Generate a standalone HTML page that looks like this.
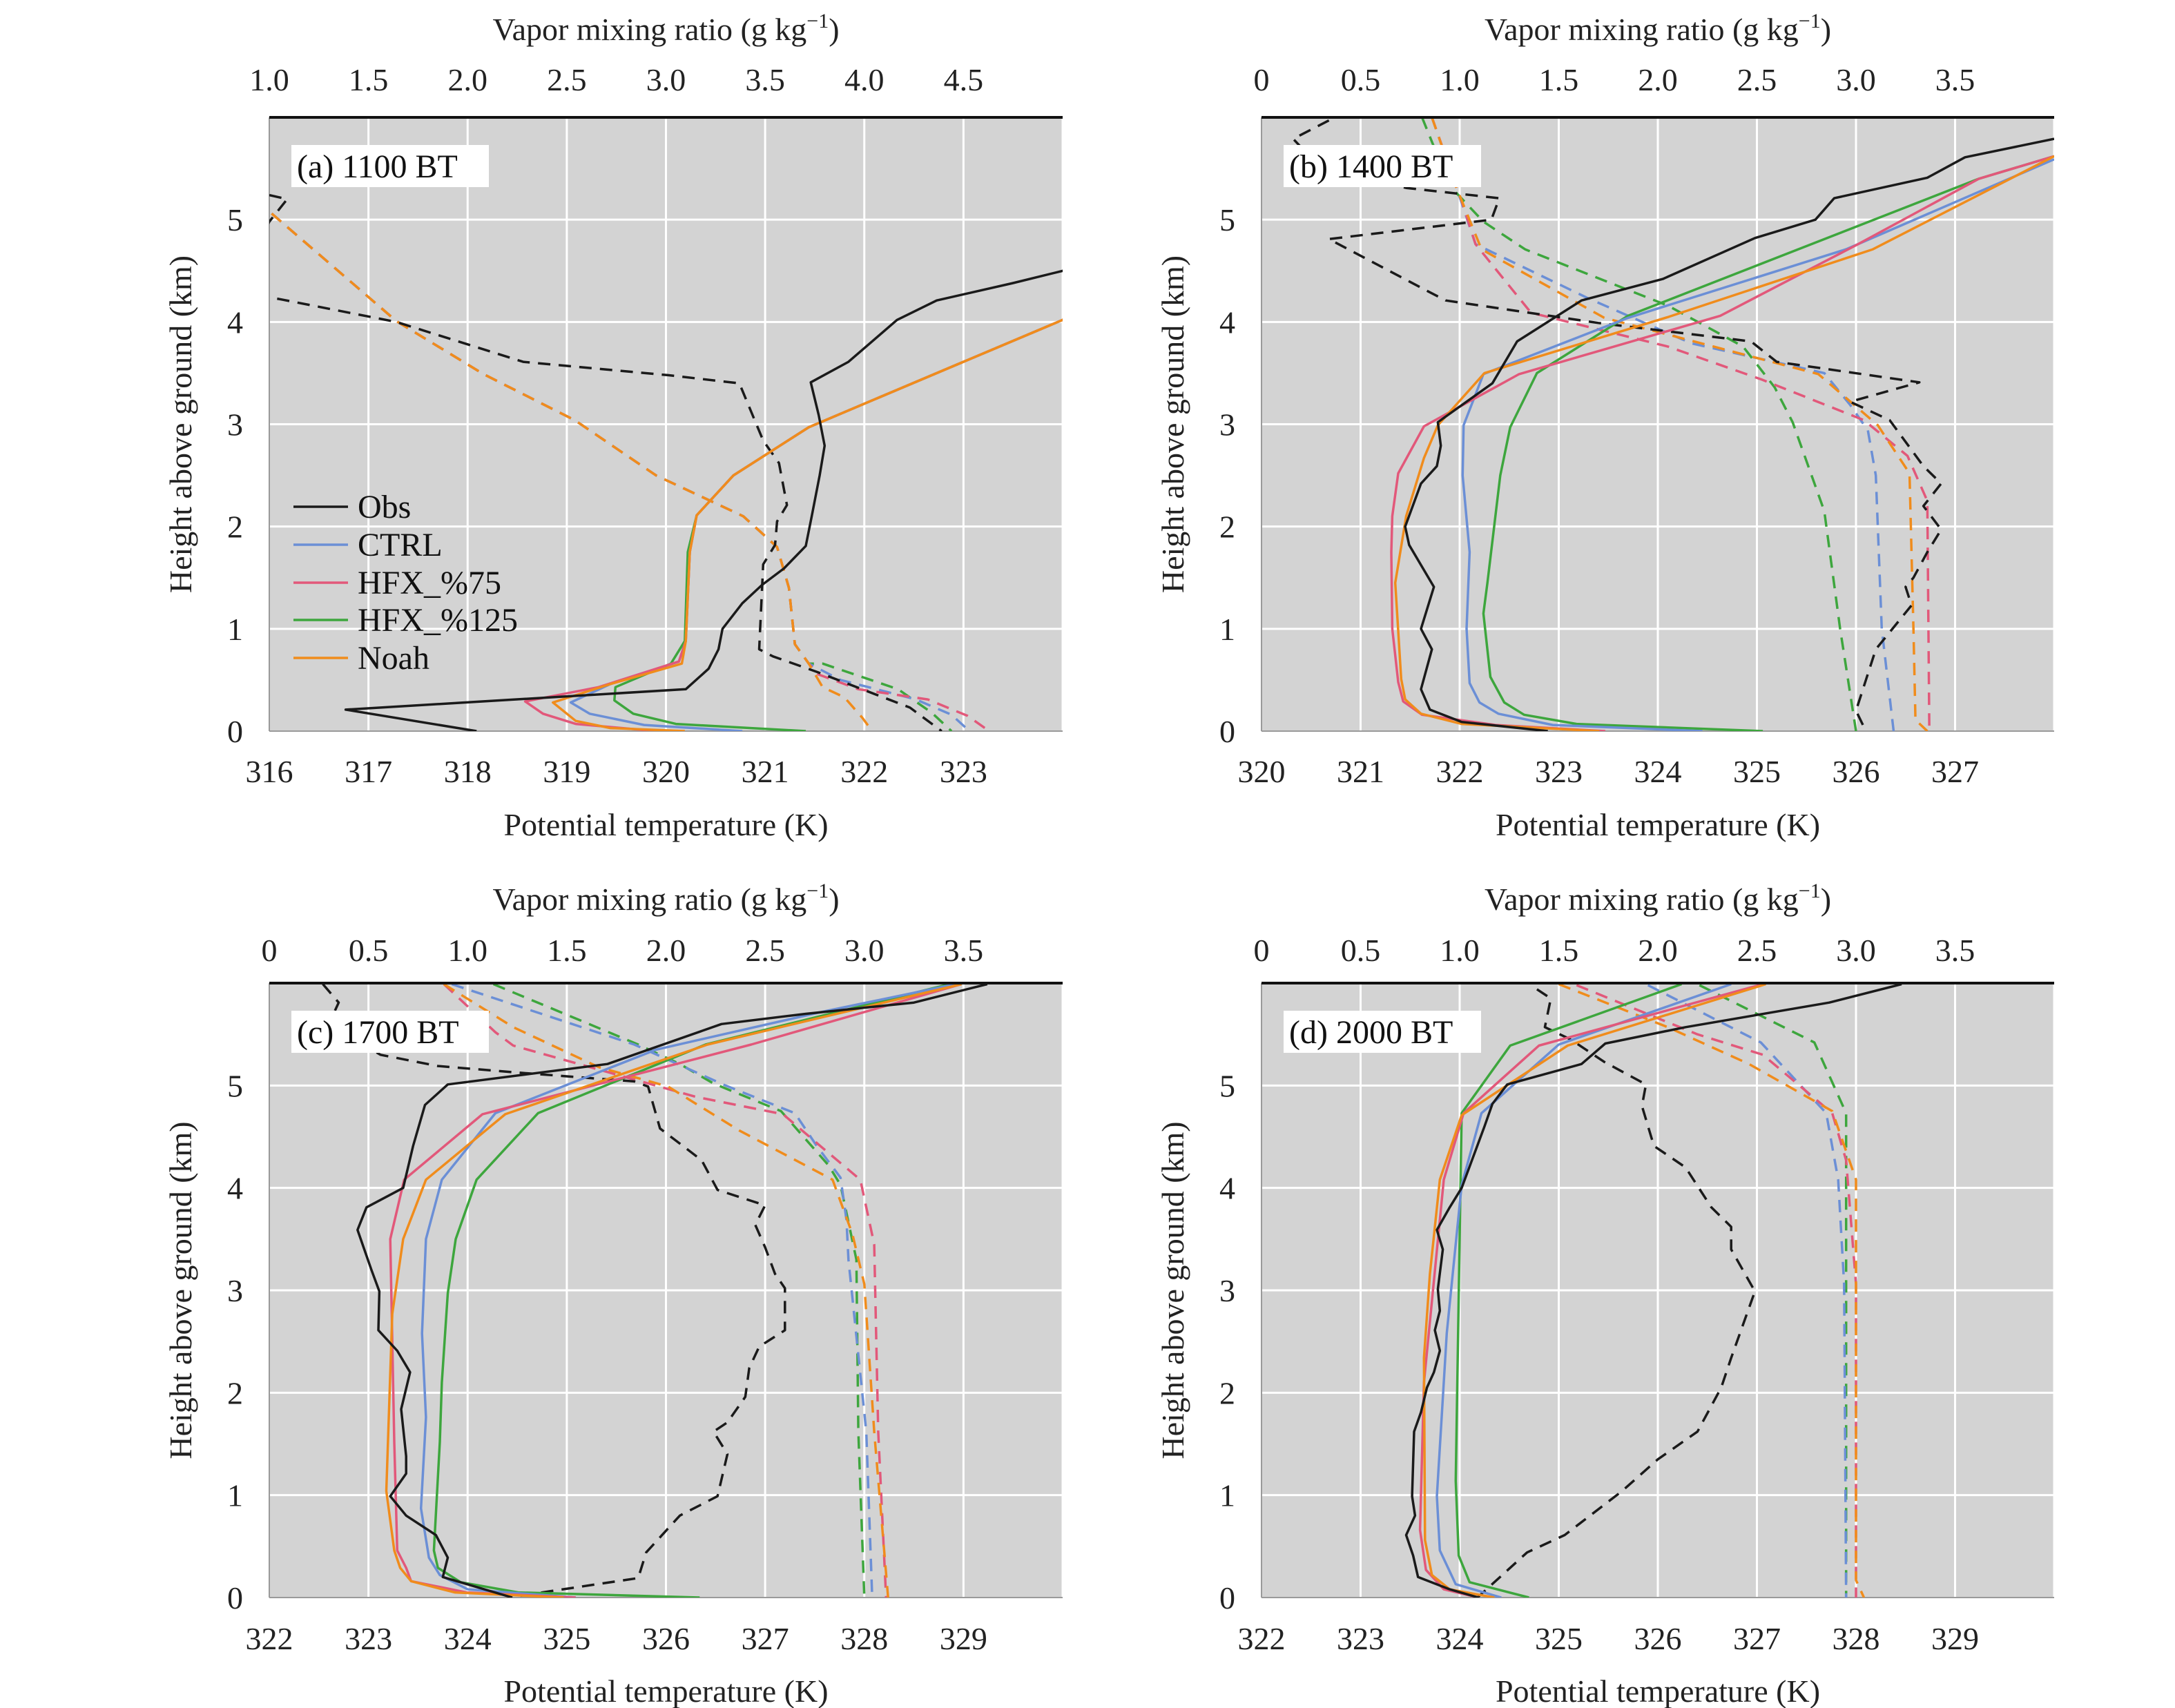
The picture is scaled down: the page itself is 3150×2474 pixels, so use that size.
<!DOCTYPE html>
<html><head><meta charset="utf-8">
<style>
html,body{margin:0;padding:0;background:#fff;}
svg{display:block;font-family:"Liberation Serif","DejaVu Serif",serif;}
</style></head>
<body>
<svg id="fig" width="3150" height="2474" viewBox="0 0 3150 2474" xmlns="http://www.w3.org/2000/svg"></svg>
<script>
// ---------- Panel (a) 1100 BT : [value, height km] ----------
const aObsT=[[318.09,0],[316.77,0.21],[320.2,0.41],[320.43,0.61],[320.53,0.8],[320.57,1.0],[320.77,1.25],[320.97,1.43],[321.19,1.59],[321.41,1.81],[321.47,2.1],[321.55,2.5],[321.6,2.79],[321.54,3.09],[321.46,3.41],[321.84,3.61],[322.33,4.02],[322.73,4.21],[323.5,4.38],[324.0,4.5],[324.6,4.8]];
const aCtrlT=[[320.77,0],[319.78,0.06],[319.23,0.17],[319.04,0.28],[319.44,0.46],[320.13,0.68],[320.2,0.88],[320.24,1.75],[320.31,2.11],[320.68,2.5],[321.44,2.97],[322.34,3.34],[324.0,4.02],[324.5,4.3]];
const aH75T=[[319.9,0],[319.09,0.07],[318.76,0.17],[318.58,0.29],[319.32,0.43],[320.13,0.68],[320.2,0.88],[320.24,1.75],[320.31,2.11],[320.68,2.5],[321.44,2.97],[322.34,3.34],[324.0,4.02],[324.5,4.3]];
const aH125T=[[321.41,0],[320.1,0.07],[319.67,0.17],[319.48,0.3],[319.49,0.43],[320.05,0.66],[320.19,0.88],[320.22,1.75],[320.31,2.11],[320.68,2.5],[321.44,2.97],[322.34,3.34],[324.0,4.02],[324.5,4.3]];
const aNoahT=[[320.19,0],[319.44,0.03],[319.09,0.1],[318.86,0.28],[319.44,0.46],[320.16,0.66],[320.2,0.88],[320.24,1.75],[320.31,2.11],[320.68,2.5],[321.44,2.97],[322.34,3.34],[324.0,4.02],[324.5,4.3]];
const aObsQ=[[1.0,5.24],[1.09,5.2],[1.0,4.98],[0.9,4.6],[0.95,4.26],[1.06,4.22],[1.64,4.0],[2.28,3.61],[3.01,3.48],[3.37,3.4],[3.49,2.84],[3.57,2.62],[3.61,2.21],[3.56,2.05],[3.55,1.82],[3.49,1.63],[3.47,0.8],[3.54,0.73],[3.76,0.58],[4.23,0.23],[4.39,0]];
const aCtrlQ=[[0.9,5.4],[1.0,5.08],[1.64,4.01],[2.08,3.49],[2.54,3.04],[2.95,2.5],[3.39,2.1],[3.56,1.8],[3.62,1.4],[3.65,0.85],[3.72,0.66],[3.88,0.5],[4.26,0.31],[4.44,0.16],[4.53,0]];
const aH75Q=[[0.9,5.4],[1.0,5.08],[1.64,4.01],[2.08,3.49],[2.54,3.04],[2.95,2.5],[3.39,2.1],[3.56,1.8],[3.62,1.4],[3.65,0.85],[3.72,0.66],[3.76,0.56],[3.97,0.41],[4.32,0.31],[4.52,0.15],[4.63,0]];
const aH125Q=[[0.9,5.4],[1.0,5.08],[1.64,4.01],[2.08,3.49],[2.54,3.04],[2.95,2.5],[3.39,2.1],[3.56,1.8],[3.62,1.4],[3.65,0.85],[3.72,0.66],[3.79,0.66],[4.17,0.41],[4.34,0.18],[4.44,0]];
const aNoahQ=[[0.9,5.4],[1.0,5.08],[1.64,4.01],[2.08,3.49],[2.54,3.04],[2.95,2.5],[3.39,2.1],[3.56,1.8],[3.62,1.4],[3.65,0.85],[3.72,0.66],[3.79,0.43],[3.9,0.33],[3.99,0.13],[4.04,0]];
// ---------- Panel (b) 1400 BT ----------
const bObsT=[[322.89,0],[322.02,0.09],[321.7,0.21],[321.61,0.41],[321.72,0.8],[321.61,1.0],[321.74,1.41],[321.49,1.82],[321.45,2.0],[321.61,2.42],[321.77,2.59],[321.81,2.79],[321.78,3.02],[322.33,3.4],[322.58,3.81],[323.23,4.21],[324.05,4.42],[324.98,4.82],[325.59,5.0],[325.78,5.21],[326.72,5.41],[327.1,5.61],[328.0,5.79]];
const bCtrlT=[[324.45,0],[322.94,0.06],[322.39,0.17],[322.2,0.28],[322.1,0.47],[322.07,1.0],[322.1,1.75],[322.03,2.5],[322.04,2.99],[322.24,3.49],[323.7,4.04],[325.9,4.71],[328.0,5.59]];
const bH75T=[[323.47,0],[322.36,0.06],[321.62,0.16],[321.43,0.29],[321.38,0.48],[321.32,1.0],[321.31,1.75],[321.32,2.1],[321.38,2.52],[321.64,2.98],[322.6,3.49],[324.63,4.06],[326.02,4.76],[327.24,5.4],[328.0,5.62]];
const bH125T=[[325.06,0],[323.18,0.07],[322.65,0.16],[322.45,0.28],[322.31,0.53],[322.24,1.15],[322.28,1.45],[322.41,2.5],[322.51,2.97],[322.78,3.5],[323.7,4.06],[327.24,5.4],[328.0,5.62]];
const bNoahT=[[323.41,0],[322.02,0.07],[321.61,0.17],[321.45,0.31],[321.41,0.51],[321.35,1.45],[321.46,2.1],[321.64,2.67],[321.78,2.99],[322.25,3.5],[324.11,4.05],[326.17,4.71],[328.0,5.62]];
const bObsQ=[[0.34,5.97],[0.16,5.79],[0.3,5.5],[0.73,5.31],[1.2,5.21],[1.16,5.0],[0.34,4.81],[0.83,4.31],[0.93,4.21],[1.7,3.99],[2.47,3.81],[2.6,3.61],[3.32,3.41],[2.97,3.22],[3.17,3.04],[3.34,2.59],[3.43,2.42],[3.34,2.2],[3.43,1.97],[3.36,1.75],[3.29,1.5],[3.25,1.41],[3.28,1.23],[3.1,0.8],[3.0,0.2],[3.05,0]];
const bCtrlQ=[[0.86,6.0],[0.99,5.28],[1.08,4.76],[1.65,4.23],[2.17,3.79],[2.84,3.5],[2.97,3.19],[3.06,2.94],[3.1,2.5],[3.13,1.0],[3.19,0]];
const bH75Q=[[0.86,6.0],[1.01,5.18],[1.08,4.76],[1.36,4.09],[2.05,3.76],[2.52,3.44],[3.04,3.04],[3.26,2.69],[3.36,2.25],[3.37,0]];
const bH125Q=[[0.81,6.0],[0.95,5.33],[1.12,4.98],[1.33,4.71],[2.05,4.16],[2.43,3.76],[2.59,3.36],[2.68,3.02],[2.84,2.15],[2.92,1.0],[3.0,0]];
const bNoahQ=[[0.86,6.0],[0.98,5.33],[1.11,4.71],[1.73,4.04],[2.81,3.49],[3.11,2.99],[3.27,2.52],[3.29,1.0],[3.3,0.11],[3.36,0]];
// ---------- Panel (c) 1700 BT ----------
const cObsT=[[324.45,0],[323.75,0.2],[323.8,0.39],[323.68,0.61],[323.38,0.8],[323.22,0.99],[323.38,1.21],[323.38,1.38],[323.33,1.84],[323.42,2.2],[323.29,2.41],[323.1,2.61],[323.11,2.99],[323.03,3.2],[322.89,3.59],[322.98,3.81],[323.35,4.0],[323.45,4.41],[323.57,4.81],[323.8,5.01],[325.41,5.21],[326.56,5.6],[327.41,5.7],[328.5,5.81],[329.24,5.99]];
const cCtrlT=[[325.09,0],[324.0,0.08],[323.72,0.22],[323.61,0.39],[323.53,0.87],[323.58,1.76],[323.54,2.58],[323.58,3.5],[323.74,4.08],[324.28,4.73],[325.9,5.35],[327.53,5.71],[328.92,5.99]];
const cH75T=[[325.09,0],[323.99,0.05],[323.43,0.16],[323.38,0.29],[323.29,0.46],[323.26,1.52],[323.22,3.5],[323.36,4.08],[324.15,4.72],[326.86,5.4],[328.98,5.99]];
const cH125T=[[326.34,0],[324.51,0.05],[323.93,0.15],[323.7,0.29],[323.66,0.46],[323.72,1.52],[323.74,2.1],[323.8,2.97],[323.88,3.5],[324.09,4.08],[324.71,4.73],[326.4,5.4],[328.86,5.99]];
const cNoahT=[[324.97,0],[323.87,0.05],[323.43,0.16],[323.32,0.29],[323.26,0.46],[323.18,1.04],[323.24,2.77],[323.35,3.5],[323.58,4.08],[324.38,4.72],[326.42,5.4],[328.98,5.99]];
const cObsQ=[[0.27,5.99],[0.35,5.81],[0.3,5.6],[0.56,5.3],[0.85,5.19],[1.23,5.13],[1.84,5.04],[1.91,4.99],[1.97,4.58],[2.18,4.27],[2.26,3.98],[2.5,3.83],[2.45,3.64],[2.5,3.42],[2.55,3.16],[2.6,3.02],[2.6,2.61],[2.47,2.45],[2.42,2.24],[2.4,1.96],[2.31,1.71],[2.24,1.62],[2.31,1.4],[2.26,0.99],[2.07,0.8],[1.9,0.44],[1.86,0.19],[1.34,0.04],[1.21,0]];
const cCtrlQ=[[0.92,5.99],[1.84,5.4],[2.3,5.0],[2.65,4.73],[2.76,4.41],[2.88,4.1],[2.91,3.69],[2.92,3.3],[3.01,1.62],[3.04,0]];
const cH75Q=[[0.88,5.99],[1.14,5.52],[1.23,5.39],[1.69,5.14],[2.15,4.89],[2.59,4.72],[2.79,4.39],[2.98,4.08],[3.05,3.45],[3.07,1.62],[3.11,0]];
const cH125Q=[[1.13,5.99],[1.86,5.4],[2.07,5.21],[2.24,5.02],[2.58,4.75],[2.82,4.22],[2.88,4.03],[2.96,3.3],[2.97,1.62],[3.0,0]];
const cNoahQ=[[0.88,5.99],[1.23,5.57],[1.66,5.18],[2.01,4.99],[2.37,4.56],[2.84,4.08],[2.94,3.55],[3.0,3.06],[3.05,1.62],[3.12,0]];
// ---------- Panel (d) 2000 BT ----------
const dObsT=[[324.19,0],[323.9,0.08],[323.58,0.2],[323.53,0.41],[323.46,0.61],[323.55,0.8],[323.52,0.99],[323.54,1.62],[323.61,1.81],[323.67,2.05],[323.74,2.2],[323.8,2.41],[323.75,2.61],[323.8,2.8],[323.78,3.01],[323.83,3.4],[323.77,3.59],[323.9,3.81],[324.02,4.0],[324.25,4.6],[324.33,4.82],[324.48,5.01],[325.23,5.21],[325.47,5.41],[326.28,5.57],[327.73,5.81],[328.46,5.99]];
const dCtrlT=[[324.42,0],[323.96,0.13],[323.8,0.46],[323.77,0.99],[323.87,2.58],[324.02,4.03],[324.22,4.73],[325.0,5.4],[326.74,5.99]];
const dH75T=[[324.19,0],[323.84,0.08],[323.66,0.27],[323.6,0.66],[323.64,2.1],[323.84,4.08],[324.04,4.73],[324.8,5.39],[327.06,5.99]];
const dH125T=[[324.7,0],[324.1,0.15],[323.99,0.41],[323.96,1.14],[324.02,4.73],[324.51,5.39],[326.24,5.99]];
const dNoahT=[[324.35,0],[323.9,0.08],[323.72,0.22],[323.65,0.56],[323.64,2.34],[323.7,3.16],[323.8,4.08],[324.02,4.71],[325.09,5.39],[327.09,5.99]];
const dObsQ=[[1.39,5.94],[1.46,5.85],[1.43,5.57],[1.56,5.45],[1.73,5.23],[1.94,5.01],[1.92,4.8],[1.98,4.41],[2.14,4.2],[2.27,3.81],[2.37,3.62],[2.37,3.4],[2.49,2.99],[2.37,2.34],[2.32,2.05],[2.2,1.62],[2.0,1.35],[1.82,1.04],[1.53,0.61],[1.34,0.44],[1.09,0]];
const dCtrlQ=[[1.95,5.98],[2.52,5.42],[2.85,4.73],[2.91,4.08],[2.94,3.06],[2.95,0]];
const dH75Q=[[1.59,5.98],[2.2,5.5],[2.53,5.3],[2.88,4.73],[2.95,4.27],[3.0,3.06],[3.0,0]];
const dH125Q=[[2.21,5.98],[2.79,5.42],[2.95,4.73],[2.95,0]];
const dNoahQ=[[1.5,5.99],[2.05,5.57],[2.46,5.21],[2.88,4.75],[3.0,4.08],[3.0,0.17],[3.04,0]];

const seriesNames=["Obs","CTRL","HFX_%75","HFX_%125","Noah"];
const seriesColors=["#1a1a1a","#6b8fd6","#e2587a","#3da63d","#f08c1c"];
const bottomTicksAB=[[316,317,318,319,320,321,322,323],[320,321,322,323,324,325,326,327]];
const bottomTicksCD=[322,323,324,325,326,327,328,329];
const topTicksA=["1.0","1.5","2.0","2.5","3.0","3.5","4.0","4.5"];
const topTicksB=["0","0.5","1.0","1.5","2.0","2.5","3.0","3.5"];
const yTicks=[0,1,2,3,4,5];

const NS="http://www.w3.org/2000/svg";
const svg=document.getElementById('fig');
function mk(tag,attrs,parent){const e=document.createElementNS(NS,tag);for(const k in attrs)e.setAttribute(k,attrs[k]);(parent||svg).appendChild(e);return e;}

const panels=[
 {id:"a",label:"(a) 1100 BT",x0:390,x1:1539,top:170,bot:1059,tmin:316,qmin:1.0,bt:bottomTicksAB[0],tt:topTicksA,T:[aObsT,aCtrlT,aH75T,aH125T,aNoahT],Q:[aObsQ,aCtrlQ,aH75Q,aH125Q,aNoahQ],legend:true,titleY:42,topTickY:115,botTickY:1117,xTitleY:1194},
 {id:"b",label:"(b) 1400 BT",x0:1827,x1:2975,top:170,bot:1059,tmin:320,qmin:0,bt:bottomTicksAB[1],tt:topTicksB,T:[bObsT,bCtrlT,bH75T,bH125T,bNoahT],Q:[bObsQ,bCtrlQ,bH75Q,bH125Q,bNoahQ],legend:false,titleY:42,topTickY:115,botTickY:1117,xTitleY:1194},
 {id:"c",label:"(c) 1700 BT",x0:390,x1:1539,top:1424,bot:2314,tmin:322,qmin:0,bt:bottomTicksCD,tt:topTicksB,T:[cObsT,cCtrlT,cH75T,cH125T,cNoahT],Q:[cObsQ,cCtrlQ,cH75Q,cH125Q,cNoahQ],legend:false,titleY:1302,topTickY:1376,botTickY:2373,xTitleY:2449},
 {id:"d",label:"(d) 2000 BT",x0:1827,x1:2975,top:1424,bot:2314,tmin:322,qmin:0,bt:bottomTicksCD,tt:topTicksB,T:[dObsT,dCtrlT,dH75T,dH125T,dNoahT],Q:[dObsQ,dCtrlQ,dH75Q,dH125Q,dNoahQ],legend:false,titleY:1302,topTickY:1376,botTickY:2373,xTitleY:2449}
];

panels.forEach(p=>{
  const W=p.x1-p.x0, H=p.bot-p.top;
  const xT=v=>p.x0+(v-p.tmin)/8*W;
  const xQ=v=>p.x0+(v-p.qmin)/4*W;
  const yH=h=>p.bot-h/6*H;
  const g=mk('g',{});
  
  
  const bg=mk('rect',{x:p.x0,y:p.top,width:W,height:H,fill:'#d3d3d3'},g);
  
  
  const cp=mk('clipPath',{id:'clip'+p.id},g);
  mk('rect',{x:p.x0,y:p.top,width:W,height:H},cp);
  for(let k=1;k<8;k++){
    const gl=mk('line',{x1:xT(p.tmin+k),x2:xT(p.tmin+k),y1:p.top,y2:p.bot,stroke:'#fff','stroke-width':3},g);
    
    
  }
  yTicks.forEach(h=>{
    if(h>0){
      const gl=mk('line',{x1:p.x0,x2:p.x1,y1:yH(h),y2:yH(h),stroke:'#fff','stroke-width':3},g);
      
      
    }
    const t=mk('text',{x:p.x0-38,y:yH(h)+16,'font-size':46,'text-anchor':'end',fill:'#222'},g);
    t.textContent=h;
    
    
  });
  mk('line',{x1:p.x1,x2:p.x1,y1:p.top,y2:p.bot,stroke:'#fff','stroke-width':3},g);
  const bl=mk('line',{x1:p.x0,x2:p.x1,y1:p.bot,y2:p.bot,stroke:'#9a9a9a','stroke-width':2},g);
  
  
  const ll=mk('line',{x1:p.x0,x2:p.x0,y1:p.top,y2:p.bot,stroke:'#9a9a9a','stroke-width':2},g);
  
  
  p.bt.forEach(v=>{
    const t=mk('text',{x:xT(v),y:p.botTickY+16,'font-size':46,'text-anchor':'middle',fill:'#222'},g);
    t.textContent=v;
    
    
  });
  p.tt.forEach((s,i)=>{
    const t=mk('text',{x:xQ(p.qmin+i*0.5),y:p.topTickY+16,'font-size':46,'text-anchor':'middle',fill:'#222'},g);
    t.textContent=s;
    
    
  });
  const xt=mk('text',{x:(p.x0+p.x1)/2,y:p.xTitleY+16,'font-size':46,'text-anchor':'middle',fill:'#222'},g);
  xt.textContent='Potential temperature (K)';
  
  
  const tt=mk('text',{x:(p.x0+p.x1)/2,y:p.titleY+16,'font-size':46,'text-anchor':'middle',fill:'#222'},g);
  tt.innerHTML='Vapor mixing ratio (g kg<tspan dy="-18" font-size="30">−1</tspan><tspan dy="18">)</tspan>';
  
  
  const yc=(p.top+p.bot)/2, yx=p.x0-113;
  const yt=mk('text',{x:yx,y:yc,'font-size':46,'text-anchor':'middle',fill:'#222',transform:`rotate(-90 ${yx} ${yc})`},g);
  yt.textContent='Height above ground (km)';
  
  

  const lines=mk('g',{'clip-path':`url(#clip${p.id})`},g);
  const order=[3,1,2,4,0];
  order.forEach(i=>{
    const dq=p.Q[i].map(d=>xQ(d[0]).toFixed(1)+','+yH(d[1]).toFixed(1)).join(' ');
    const l=mk('polyline',{points:dq,fill:'none',stroke:seriesColors[i],'stroke-width':3.5,'stroke-dasharray':'18 12','stroke-linejoin':'round'},lines);
    
    
  });
  order.forEach(i=>{
    const dt=p.T[i].map(d=>xT(d[0]).toFixed(1)+','+yH(d[1]).toFixed(1)).join(' ');
    const l=mk('polyline',{points:dt,fill:'none',stroke:seriesColors[i],'stroke-width':3.5,'stroke-linejoin':'round'},lines);
    
    
  });
  const tl=mk('line',{x1:p.x0,x2:p.x1,y1:p.top,y2:p.top,stroke:'#111','stroke-width':4},g);
  
  

  const bx=p.x0+32, by=p.top+40;
  const lb=mk('rect',{x:bx,y:by,width:286,height:61,fill:'#fff'},g);
  
  
  const lt=mk('text',{x:bx+8,y:by+47,'font-size':48,fill:'#111'},g);
  lt.textContent=p.label;
  
  

  if(p.legend){
    const lg=mk('g',{},g);
    
    
    const rows=[734,789,844,898,953];
    seriesNames.forEach((n,i)=>{
      const e=mk('g',{},lg);
      
      
      mk('line',{x1:425,x2:504,y1:rows[i],y2:rows[i],stroke:seriesColors[i],'stroke-width':3.5},e);
      const t=mk('text',{x:518,y:rows[i]+16,'font-size':48,fill:'#111'},e);
      t.textContent=n;
    });
  }
});
</script>
</body></html>
